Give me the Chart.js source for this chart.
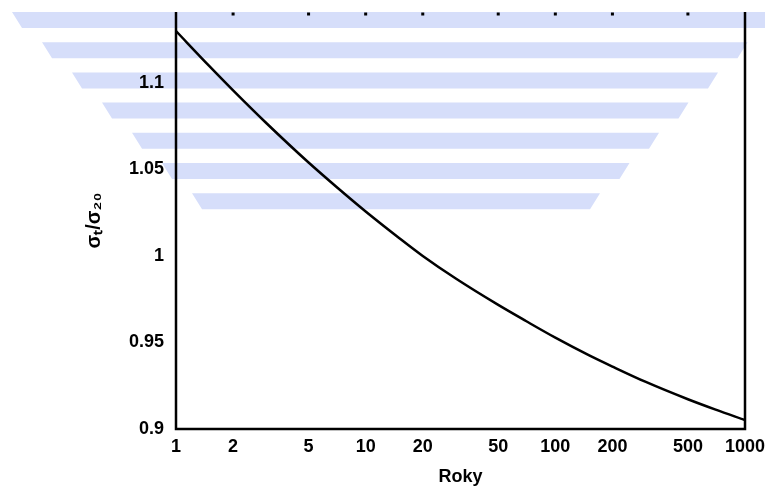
<!DOCTYPE html>
<html>
<head>
<meta charset="utf-8">
<script src="https://cdn.jsdelivr.net/npm/chart.js@4.4.0/dist/chart.umd.min.js"></script>
<style>
    html, body { margin: 0; padding: 0; background: #fff; }
</style>
</head>
<body>
<canvas id="chart" width="765" height="486"></canvas>
<script>
// Dados
const years = [1, 1.5, 2, 3, 5, 7, 10, 15, 20, 30, 50, 70, 100, 150, 200, 300, 500, 700, 1000];
const ratio = [1.1300, 1.1097, 1.0957, 1.0767, 1.0540, 1.0400, 1.0257, 1.0104, 1.0000, 0.9868,
               0.9717, 0.9624, 0.9528, 0.9427, 0.9361, 0.9272, 0.9172, 0.9112, 0.9052];
const xTicks = [1, 2, 5, 10, 20, 50, 100, 200, 500, 1000];
const yTicks = [0.9, 0.95, 1, 1.05, 1.1];

const FONT = "'Liberation Sans', Arial, sans-serif";

// Marca d'água com listras azuis
const watermark = {
    id: 'watermark',
    beforeDraw(chart) {
        const ctx = chart.ctx;
        ctx.save();
        ctx.fillStyle = 'rgb(214, 222, 250)';
        for (let i = 0; i < 7; i++) {
            const top = 12 + i * 30.2;
            const h = 16;
            const l = 12 + i * 30;
            const r = 777 - i * 29.5;
            ctx.beginPath();
            ctx.moveTo(l, top);
            ctx.lineTo(r, top);
            ctx.lineTo(r - 10, top + h);
            ctx.lineTo(l + 10, top + h);
            ctx.closePath();
            ctx.fill();
        }
        ctx.restore();
    }
};

// Moldura: eixo esquerdo, direito, inferior e pontos no topo
const frame = {
    id: 'frame',
    afterDraw(chart) {
        const { ctx, chartArea: a, scales: { x } } = chart;
        ctx.save();
        ctx.strokeStyle = '#000';
        ctx.lineWidth = 2.5;
        ctx.beginPath();
        ctx.moveTo(a.left, a.top);
        ctx.lineTo(a.left, a.bottom);
        ctx.lineTo(a.right, a.bottom);
        ctx.lineTo(a.right, a.top);
        ctx.stroke();
        ctx.fillStyle = '#000';
        xTicks.slice(1, -1).forEach(v => {
            const px = x.getPixelForValue(v);
            ctx.fillRect(px - 1.5, a.top + 0.5, 3, 3);
        });
        ctx.restore();
    }
};

const ctx = document.getElementById('chart');
new Chart(ctx, {
    type: 'line',
    data: {
        datasets: [{
            data: years.map((y, i) => ({ x: y, y: ratio[i] })),
            borderColor: '#000',
            borderWidth: 2.5,
            pointRadius: 0,
            cubicInterpolationMode: 'monotone',
            fill: false
        }]
    },
    options: {
        responsive: false,
        devicePixelRatio: 1,
        animation: false,
        layout: { padding: { left: 82, top: 12, right: 20, bottom: 0 } },
        plugins: {
            legend: { display: false },
            tooltip: { enabled: false }
        },
        scales: {
            x: {
                type: 'logarithmic',
                min: 1,
                max: 1000,
                afterBuildTicks: s => { s.ticks = xTicks.map(v => ({ value: v })); },
                afterFit: s => { s.height = 57; s.paddingLeft = 0; s.paddingRight = 0; },
                grid: { display: false, drawTicks: false },
                border: { display: false },
                ticks: {
                    autoSkip: false,
                    maxRotation: 0,
                    padding: 7,
                    color: '#000',
                    font: { family: FONT, size: 18, weight: 'bold' },
                    callback: v => String(v)
                },
                title: {
                    display: true,
                    text: 'Roky',
                    color: '#000',
                    padding: { top: 0, bottom: -2 },
                    font: { family: FONT, size: 18, weight: 'bold' }
                }
            },
            y: {
                type: 'linear',
                min: 0.9,
                max: 1.141,
                afterBuildTicks: s => { s.ticks = yTicks.map(v => ({ value: v })); },
                afterFit: s => { s.width = 94; s.paddingTop = 0; s.paddingBottom = 0; },
                grid: { display: false, drawTicks: false },
                border: { display: false },
                ticks: {
                    padding: 12,
                    color: '#000',
                    font: { family: FONT, size: 18, weight: 'bold' },
                    callback: v => String(Number(v.toFixed(2)))
                },
                title: {
                    display: true,
                    text: 'σₜ/σ₂₀',
                    color: '#000',
                    padding: { top: 0, bottom: 0 },
                    font: { family: FONT, size: 20, weight: 'bold' }
                }
            }
        }
    },
    plugins: [watermark, frame]
});
</script>
</body>
</html>
